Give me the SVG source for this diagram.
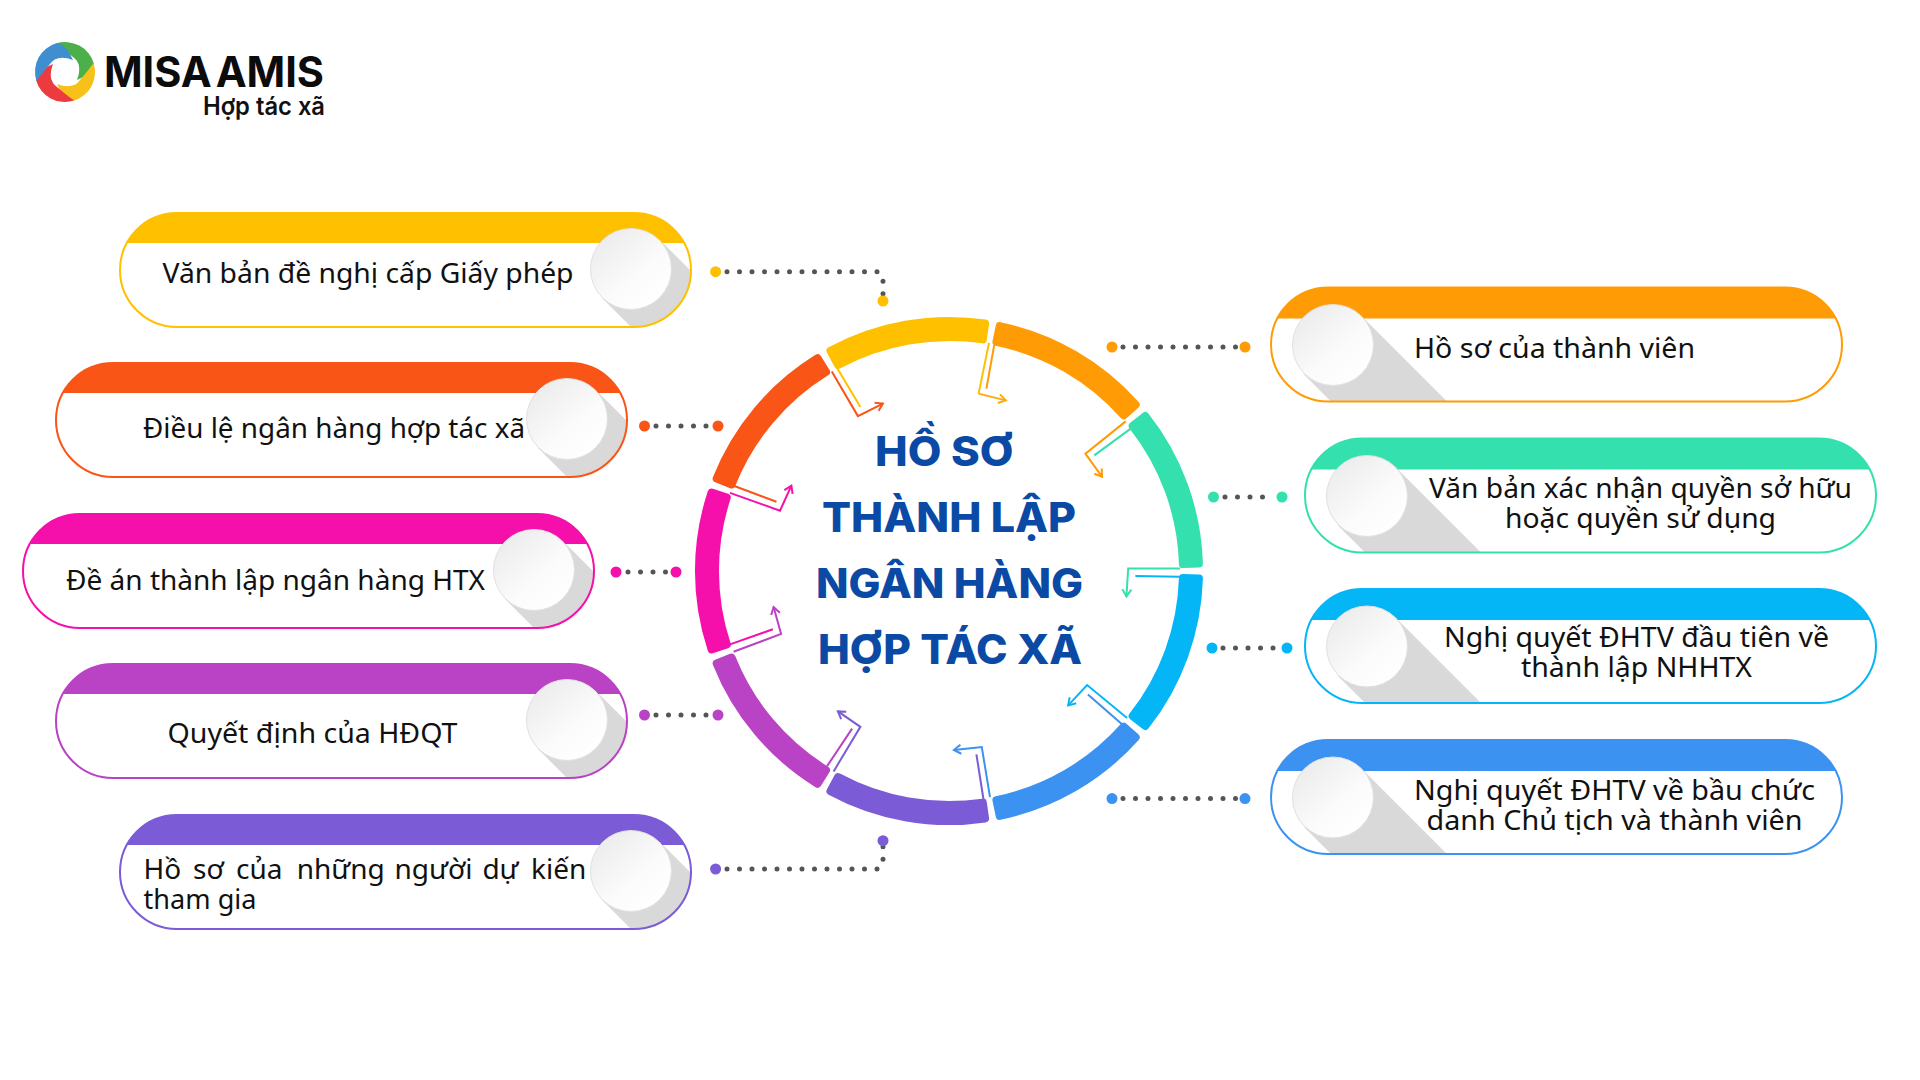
<svg xmlns="http://www.w3.org/2000/svg" xmlns:xlink="http://www.w3.org/1999/xlink" width="1920" height="1080" viewBox="0 0 1920 1080">
<style>
text{font-family:"Noto Sans","Liberation Sans",sans-serif}
.t{font-size:28px;fill:#111}
.m{text-anchor:start}
.title{font-family:Inter,"Noto Sans",sans-serif;font-size:41px;font-weight:800;fill:#0A4AA5}
.seg{fill:currentColor;stroke:currentColor;stroke-width:8;stroke-linejoin:round}
.arr{fill:none;stroke-width:2;stroke-linejoin:miter}
.arr2{fill:none;stroke-width:2}
.dots{fill:none;stroke:#555;stroke-width:5;stroke-linecap:round;stroke-dasharray:0 12.5}
</style>
<defs>
<linearGradient id="disc" x1="0.15" y1="0.1" x2="0.85" y2="0.9"><stop offset="0" stop-color="#ececec"/><stop offset="0.6" stop-color="#fbfbfb"/><stop offset="1" stop-color="#ffffff"/></linearGradient>
<clipPath id="pc"><rect width="571" height="114" rx="57"/></clipPath>
<marker id="h" markerUnits="userSpaceOnUse" markerWidth="14" markerHeight="14" refX="9" refY="7" orient="auto" overflow="visible"><path d="M2,2.5L9,7L2,11.5" fill="none" stroke="context-stroke" stroke-width="2"/></marker>
<path id="sector" class="seg" d="M-78.5,-237.4A250,250 0 0 1 78.5,-237.4L73.5,-222.2A234,234 0 0 0 -73.5,-222.2Z"/>
<path id="blade" d="M-9,-28.6A30,30 0 0 1 29,-8Q27,2 12,8Q18,-8 8,-15Q0,-22 -9,-28.6Z"/>
<g id="pillL">
<rect width="571" height="114" rx="57" fill="#fff"/>
<g clip-path="url(#pc)">
<polygon points="540,27 640,127 582,185 482,85" fill="#d9d9d9"/>
<rect width="571" height="30" fill="currentColor"/>
</g>
<rect width="571" height="114" rx="57" fill="none" stroke="currentColor" stroke-width="2"/>
<circle cx="511" cy="56" r="40.5" fill="url(#disc)" stroke="#e0e0e0" stroke-width="1"/>
</g>
<g id="pillR">
<rect width="571" height="114" rx="57" fill="#fff"/>
<g clip-path="url(#pc)">
<polygon points="91,29 191,129 133,187 33,87" fill="#d9d9d9"/>
<rect width="571" height="31" fill="currentColor"/>
</g>
<rect width="571" height="114" rx="57" fill="none" stroke="currentColor" stroke-width="2"/>
<circle cx="62" cy="57.5" r="40.5" fill="url(#disc)" stroke="#e0e0e0" stroke-width="1"/>
</g>
</defs>
<rect width="1920" height="1080" fill="#fff"/>

<g id="logo">
<g transform="translate(65 72)">
<use href="#blade" fill="#4CB04A"/>
<use href="#blade" fill="#F8C11A" transform="rotate(90)"/>
<use href="#blade" fill="#EC3B3F" transform="rotate(180)"/>
<use href="#blade" fill="#3F8FD0" transform="rotate(270)"/>
</g>
<text x="104" y="86.7" textLength="220" lengthAdjust="spacingAndGlyphs" style="font-family:Inter,'Noto Sans',sans-serif;font-size:42px;font-weight:700;word-spacing:-6px;fill:#0c0c0c">MISA AMIS</text>
<text x="203" y="115" textLength="122" lengthAdjust="spacingAndGlyphs" style="font-family:Inter,'Noto Sans',sans-serif;font-size:25px;font-weight:600;fill:#111">Hợp tác xã</text>
</g>

<g id="connectors">
<path class="dots" d="M727,271.7H877Q883,272 883,280V298"/>
<path class="dots" d="M656,426H712"/>
<path class="dots" d="M628,572H670"/>
<path class="dots" d="M656,715H712"/>
<path class="dots" d="M727,869H877Q883,868 883,860V845"/>
<path class="dots" d="M1123,347H1240"/>
<path class="dots" d="M1225,497H1275"/>
<path class="dots" d="M1223,648H1280"/>
<path class="dots" d="M1123,798.6H1240"/>
<g fill="#FFC000"><circle cx="715.6" cy="271.7" r="5.5"/><circle cx="883" cy="301" r="5.5"/></g>
<g fill="#F95516"><circle cx="644.5" cy="426" r="5.5"/><circle cx="718" cy="426" r="5.5"/></g>
<g fill="#F50FAB"><circle cx="616" cy="572" r="5.5"/><circle cx="676" cy="572" r="5.5"/></g>
<g fill="#B942C5"><circle cx="644.5" cy="715" r="5.5"/><circle cx="718" cy="715" r="5.5"/></g>
<g fill="#7B5BD6"><circle cx="715.6" cy="869" r="5.5"/><circle cx="883" cy="840.7" r="5.5"/></g>
<g fill="#FF9B05"><circle cx="1112" cy="347" r="5.5"/><circle cx="1245" cy="347" r="5.5"/></g>
<g fill="#34E0AE"><circle cx="1213.5" cy="497" r="5.5"/><circle cx="1282" cy="497" r="5.5"/></g>
<g fill="#05B6F6"><circle cx="1212" cy="648" r="5.5"/><circle cx="1287" cy="648" r="5.5"/></g>
<g fill="#3C92F0"><circle cx="1112" cy="798.6" r="5.5"/><circle cx="1245" cy="798.6" r="5.5"/></g>
</g>

<g id="ring">
<g transform="translate(949 571)">
<use href="#sector" color="#FFC000" transform="rotate(350)"/>
<use href="#sector" color="#FF9B05" transform="rotate(30)"/>
<use href="#sector" color="#34E0AE" transform="rotate(70)"/>
<use href="#sector" color="#05B6F6" transform="rotate(110)"/>
<use href="#sector" color="#3C92F0" transform="rotate(150)"/>
<use href="#sector" color="#7B5BD6" transform="rotate(190)"/>
<use href="#sector" color="#B942C5" transform="rotate(230)"/>
<use href="#sector" color="#F50FAB" transform="rotate(270)"/>
<use href="#sector" color="#F95516" transform="rotate(310)"/>
</g>
</g>

<g id="ring-arrows">
<polyline class="arr" stroke="#FFC000" points="989,342.9 978.6,393.6"/><polyline class="arr" stroke="#FFA90A" points="978.6,393.6 1005.7,400.4" marker-end="url(#h)"/><line class="arr2" stroke="#FF9B05" x1="994.3" y1="344.6" x2="986.4" y2="388.6"/>
<polyline class="arr" stroke="#FF9B05" points="1125.7,421.4 1085.4,453.6 1102.1,476.8" marker-end="url(#h)"/><line class="arr2" stroke="#34E0AE" x1="1130.7" y1="428.6" x2="1094.3" y2="455.4"/>
<polyline class="arr" stroke="#34E0AE" points="1180,568.6 1128.2,568.6 1126.4,596.4" marker-end="url(#h)"/><line class="arr2" stroke="#05B6F6" x1="1180" y1="576.8" x2="1135.4" y2="576.1"/>
<polyline class="arr" stroke="#05B6F6" points="1127.1,717.9 1087.1,685 1068.2,705.4" marker-end="url(#h)"/><line class="arr2" stroke="#3C92F0" x1="1122.9" y1="725" x2="1087.9" y2="694.6"/>
<polyline class="arr" stroke="#3C92F0" points="990,797.1 981.8,747.1 953.9,750" marker-end="url(#h)"/><line class="arr2" stroke="#7B5BD6" x1="983.6" y1="800" x2="976.4" y2="754.3"/>
<polyline class="arr" stroke="#7B5BD6" points="833.6,771.4 860.4,726.8 837.9,711.4" marker-end="url(#h)"/><line class="arr2" stroke="#B942C5" x1="827.1" y1="766.1" x2="852.1" y2="728.6"/>
<polyline class="arr" stroke="#B942C5" points="733.6,651.8 781.1,633.9 773.6,607.1" marker-end="url(#h)"/><line class="arr2" stroke="#F50FAB" x1="729.3" y1="644.6" x2="772.9" y2="629.3"/>
<polyline class="arr" stroke="#F50FAB" points="730,492.9 780,510.7 791.4,485.7" marker-end="url(#h)"/><line class="arr2" stroke="#F95516" x1="733.6" y1="485.7" x2="776.4" y2="501.8"/>
<polyline class="arr" stroke="#F95516" points="831.8,371.4 857.9,416.1 882.9,403.6" marker-end="url(#h)"/><line class="arr2" stroke="#FFC000" x1="837.1" y1="367.9" x2="860.4" y2="407.1"/>
</g>

<g id="title">
<text class="title" x="875" y="466" textLength="139" lengthAdjust="spacingAndGlyphs">HỒ SƠ</text>
<text class="title" x="822" y="532.4" textLength="254" lengthAdjust="spacingAndGlyphs">THÀNH LẬP</text>
<text class="title" x="816" y="598" textLength="267" lengthAdjust="spacingAndGlyphs">NGÂN HÀNG</text>
<text class="title" x="818" y="664" textLength="264" lengthAdjust="spacingAndGlyphs">HỢP TÁC XÃ</text>
</g>

<g id="node-van-ban-de-nghi"><use href="#pillL" x="120" y="213" color="#FFC000"/><text class="t" x="162.5" y="283" textLength="411" lengthAdjust="spacingAndGlyphs">Văn bản đề nghị cấp Giấy phép</text></g>
<g id="node-dieu-le"><use href="#pillL" x="56" y="363" color="#F95516"/><text class="t" x="143" y="438" textLength="382" lengthAdjust="spacingAndGlyphs">Điều lệ ngân hàng hợp tác xã</text></g>
<g id="node-de-an"><use href="#pillL" x="23" y="514" color="#F50FAB"/><text class="t" x="66" y="589.5" textLength="419" lengthAdjust="spacingAndGlyphs">Đề án thành lập ngân hàng HTX</text></g>
<g id="node-quyet-dinh"><use href="#pillL" x="56" y="664" color="#B942C5"/><text class="t" x="167.5" y="743" textLength="290" lengthAdjust="spacingAndGlyphs">Quyết định của HĐQT</text></g>
<g id="node-ho-so-nguoi"><use href="#pillL" x="120" y="815" color="#7B5BD6"/><text class="t" y="878.5"><tspan x="143.5">Hồ</tspan> <tspan x="193">sơ</tspan> <tspan x="236">của</tspan> <tspan x="296.7">những</tspan> <tspan x="394.5">người</tspan> <tspan x="482.4">dự</tspan> <tspan x="531">kiến</tspan></text><text class="t" x="143.5" y="908.5" textLength="113" lengthAdjust="spacingAndGlyphs">tham gia</text></g>

<g id="node-ho-so-thanh-vien"><use href="#pillR" x="1271" y="287.5" color="#FF9B05"/><text class="t" x="1414" y="358" textLength="281" lengthAdjust="spacingAndGlyphs">Hồ sơ của thành viên</text></g>
<g id="node-quyen-so-huu"><use href="#pillR" x="1305" y="438.5" color="#34E0AE"/><text class="t" x="1429" y="498" textLength="423" lengthAdjust="spacingAndGlyphs">Văn bản xác nhận quyền sở hữu</text><text class="t" x="1505" y="528" textLength="271" lengthAdjust="spacingAndGlyphs">hoặc quyền sử dụng</text></g>
<g id="node-nghi-quyet-1"><use href="#pillR" x="1305" y="589" color="#05B6F6"/><text class="t" x="1444" y="646.5" textLength="385" lengthAdjust="spacingAndGlyphs">Nghị quyết ĐHTV đầu tiên về</text><text class="t" x="1521" y="676.5" textLength="231" lengthAdjust="spacingAndGlyphs">thành lập NHHTX</text></g>
<g id="node-nghi-quyet-2"><use href="#pillR" x="1271" y="740" color="#3C92F0"/><text class="t" x="1414" y="799.5" textLength="401" lengthAdjust="spacingAndGlyphs">Nghị quyết ĐHTV về bầu chức</text><text class="t" x="1426.5" y="829.5" textLength="376" lengthAdjust="spacingAndGlyphs">danh Chủ tịch và thành viên</text></g>
</svg>
